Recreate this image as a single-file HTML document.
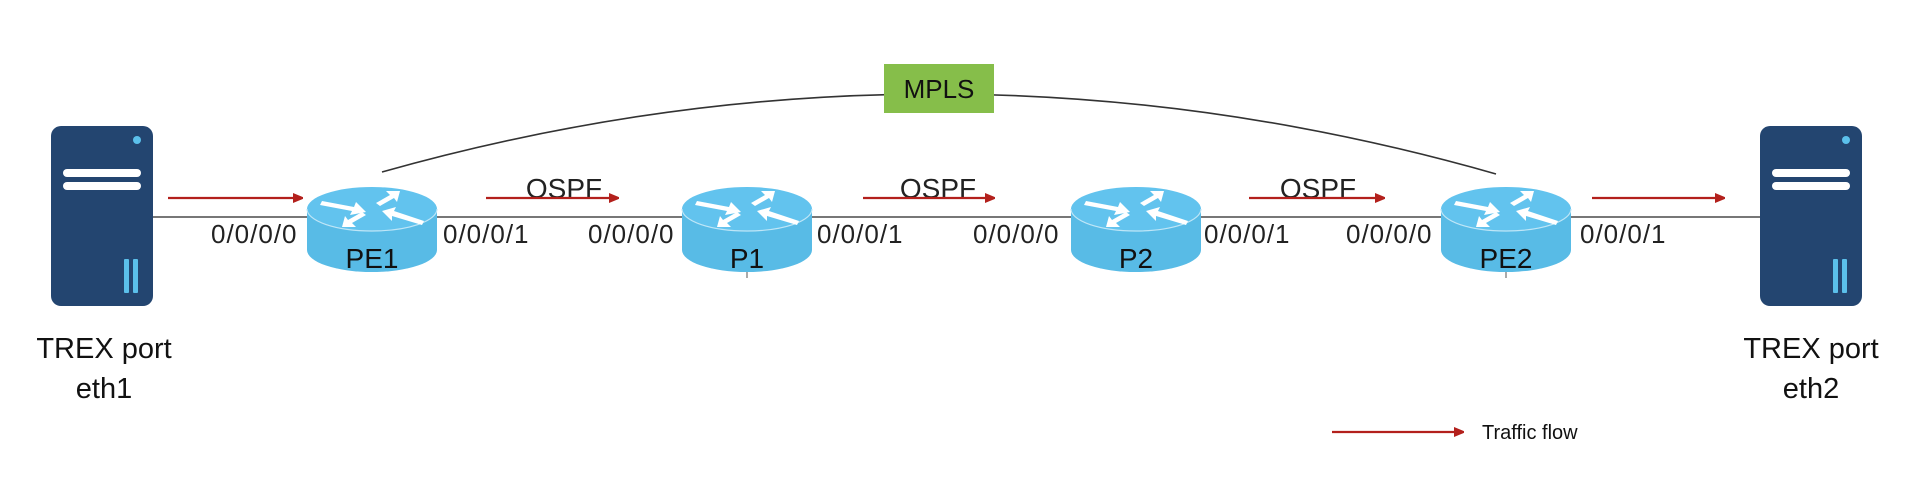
<!DOCTYPE html>
<html><head><meta charset="utf-8"><style>
html,body{margin:0;padding:0;background:#fff;}
svg{display:block;}
text{font-family:"Liberation Sans",sans-serif;}
</style></head><body>
<svg width="1920" height="478" viewBox="0 0 1920 478" xmlns="http://www.w3.org/2000/svg">
<defs>
<marker id="ah" markerWidth="10" markerHeight="10" refX="9" refY="5" orient="auto" markerUnits="userSpaceOnUse">
<path d="M0,0 L12,5 L0,10 Z" fill="#b3201c"/></marker>
<g id="router">
  <path d="M-65,22 L-65,63 A65,22 0 0 0 65,63 L65,22 Z" fill="#58bbe6"/>
  <ellipse cx="0" cy="22" rx="65" ry="22" fill="#62c3ee"/>
  <path d="M-65,22 A65,22 0 0 0 65,22" fill="none" stroke="#bfe6f7" stroke-width="1.2"/>
  <g fill="#fff">
    <polygon points="-50,14 -18,20 -16,15 -6,25 -22,28 -20,24 -52,18"/>
    <polygon points="28,4 14,4 18,8 4,16 8,19 22,11 25,15"/>
    <polygon points="52,34 22,24 24,20 10,24 20,34 20,29 50,38"/>
    <polygon points="-30,40 -16,40 -20,36 -6,28 -10,25 -24,33 -27,29"/>
  </g>
</g>
<g id="server">
  <rect x="0" y="0" width="102" height="180" rx="10" fill="#234570"/>
  <circle cx="86" cy="14" r="4" fill="#5bc0eb"/>
  <rect x="12" y="43" width="78" height="8" rx="4" fill="#fff"/>
  <rect x="12" y="56" width="78" height="8" rx="4" fill="#fff"/>
  <rect x="73" y="133" width="5" height="34" rx="1" fill="#5bc0eb"/>
  <rect x="82" y="133" width="5" height="34" rx="1" fill="#5bc0eb"/>
</g>
</defs>

<!-- main line -->
<line x1="153" y1="217" x2="1760" y2="217" stroke="#777" stroke-width="2"/>

<!-- MPLS curve -->
<path d="M382,172 Q939,15 1496,174" fill="none" stroke="#333" stroke-width="1.6"/>
<rect x="884" y="64" width="110" height="49" fill="#86be4a"/>
<text x="939" y="98" font-size="26" text-anchor="middle" fill="#111">MPLS</text>

<!-- servers -->
<use href="#server" x="51" y="126"/>
<use href="#server" x="1760" y="126"/>

<!-- routers -->
<use href="#router" x="372" y="187"/>
<use href="#router" x="747" y="187"/>
<use href="#router" x="1136" y="187"/>
<use href="#router" x="1506" y="187"/>
<line x1="747" y1="272" x2="747" y2="278" stroke="#555" stroke-width="1"/>
<line x1="1506" y1="272" x2="1506" y2="278" stroke="#555" stroke-width="1"/>

<g font-size="28" text-anchor="middle" fill="#111">
<text x="372" y="268">PE1</text>
<text x="747" y="268">P1</text>
<text x="1136" y="268">P2</text>
<text x="1506" y="268">PE2</text>
</g>

<!-- interface labels -->
<g font-size="26" fill="#222" letter-spacing="1">
<text x="211" y="243">0/0/0/0</text>
<text x="443" y="243">0/0/0/1</text>
<text x="588" y="243">0/0/0/0</text>
<text x="817" y="243">0/0/0/1</text>
<text x="973" y="243">0/0/0/0</text>
<text x="1204" y="243">0/0/0/1</text>
<text x="1346" y="243">0/0/0/0</text>
<text x="1580" y="243">0/0/0/1</text>
</g>

<!-- OSPF -->
<g font-size="28" text-anchor="middle" fill="#222">
<text x="564" y="198">OSPF</text>
<text x="938" y="198">OSPF</text>
<text x="1318" y="198">OSPF</text>
</g>

<!-- traffic arrows -->
<g stroke="#b3201c" stroke-width="2.2" marker-end="url(#ah)">
<line x1="168" y1="198" x2="302" y2="198"/>
<line x1="486" y1="198" x2="618" y2="198"/>
<line x1="863" y1="198" x2="994" y2="198"/>
<line x1="1249" y1="198" x2="1384" y2="198"/>
<line x1="1592" y1="198" x2="1724" y2="198"/>
<line x1="1332" y1="432" x2="1463" y2="432"/>
</g>
<text x="1482" y="439" font-size="20" fill="#111">Traffic flow</text>

<!-- server labels -->
<g font-size="29" text-anchor="middle" fill="#111">
<text x="104" y="358">TREX port</text>
<text x="104" y="398">eth1</text>
<text x="1811" y="358">TREX port</text>
<text x="1811" y="398">eth2</text>
</g>
</svg>
</body></html>
